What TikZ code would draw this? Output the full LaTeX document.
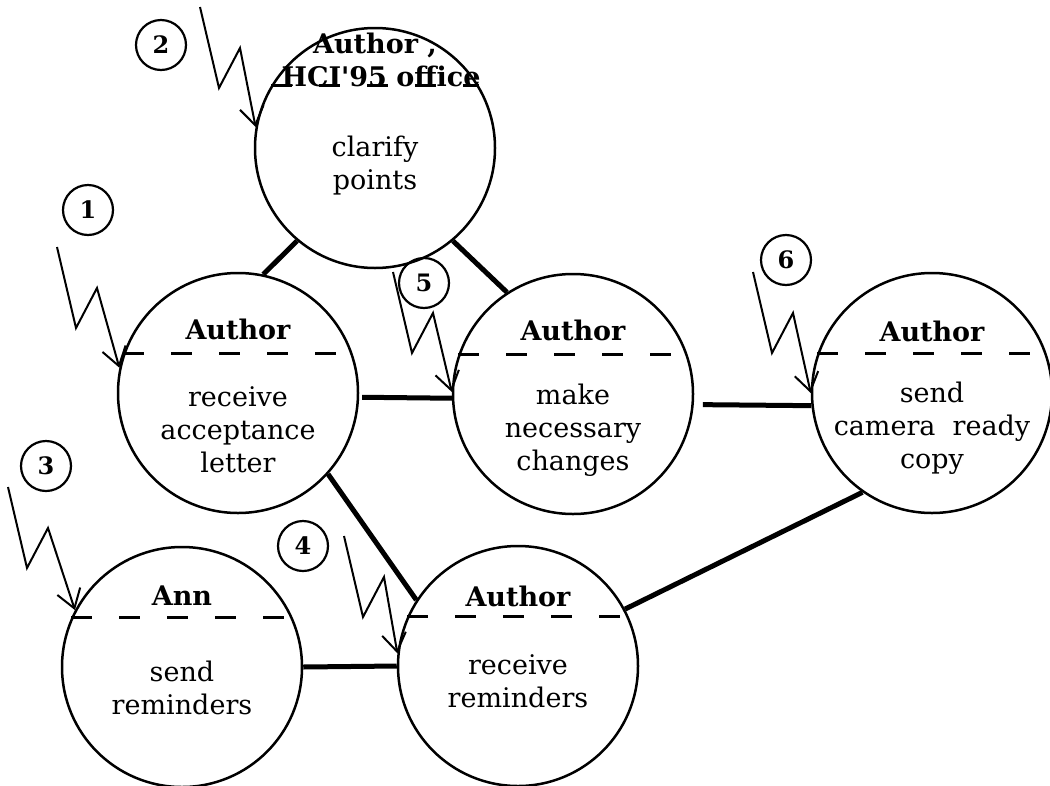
\documentclass[tikz,border=0pt]{standalone}
\usepackage{fontspec}
\setmainfont{DejaVu Serif}
\usetikzlibrary{arrows.meta,calc}

\begin{document}
\begin{tikzpicture}[
  x=1pt,y=-1pt,
  font=\fontsize{27}{33}\selectfont,
  task/.style={draw,circle,line width=2.5pt,minimum size=240pt,inner sep=0pt},
  head/.style={font=\fontsize{27}{33}\selectfont\bfseries,inner sep=0pt},
  body/.style={align=center,inner sep=0pt},
  role/.style={line width=3pt,dash pattern=on 21pt off 27pt},
  link/.style={line width=5pt},
  badge/.style={draw,circle,line width=2.2pt,minimum size=50pt,inner sep=0pt,font=\fontsize{24}{24}\selectfont\bfseries},
  bolt/.style={line width=2pt,-{Straight Barb[length=18pt,width=24pt]}}
]
\useasboundingbox (0,0) rectangle (1050,785);
% --- tasks -----------------------------------------------------------------
\node[task] (clar) at (375,148) {};
\node[head] (clarh) at (375,45) {Author ,};
\node[head] (clarh2) at (381,76) {HCI\textquotesingle95 office};
\node[body] (clarb) at (375,166) {clarify\\points};
\draw[role] (clar.149) -- (clar.31);

\node[task] (recv) at (238,393) {};
\node[head] (recvh) at (238,329) {Author};
\node[body] (recvb) at (238,430) {receive\\acceptance\\letter};
\draw[role] (recv.161) -- (recv.19);

\node[task] (make) at (573,394) {};
\node[head] (makeh) at (573,330) {Author};
\node[body] (makeb) at (573,430) {make\\necessary\\changes};
\draw[role] (make.161) -- (make.19);

\node[task] (send) at (932,393) {};
\node[head] (sendh) at (932,331) {Author};
\node[body] (sendb) at (932,428) {send\\camera\ \ ready\\copy};
\draw[role] (send.161) -- (send.19);

\node[task] (ann) at (182,667) {};
\node[head] (annh) at (182,596) {Ann};
\node[body] (annb) at (182,688) {send\\reminders};
\draw[role] (ann.156) -- (ann.24);

\node[task] (rmd) at (518,666) {};
\node[head] (rmdh) at (518,596) {Author};
\node[body] (rmdb) at (518,681) {receive\\reminders};
\draw[role] (rmd.156) -- (rmd.24);
% --- links -----------------------------------------------------------------
\draw[link] (clar.230) -- (recv.78);
\draw[link] (clar.310) -- (make.123);
\draw[link,shorten <=3pt] (recv.358) -- (make.182);
\draw[link,shorten <=9pt] (make.355) -- (send.186);
\draw[link] (recv.318) -- (rmd.147);
\draw[link] (ann.east) -- (rmd.west);
\draw[link] (rmd.28) -- (send.235);
% --- numbered events -------------------------------------------------------
\foreach \n/\p/\s in {1/{88,210}/{57,247},2/{161,45}/{200,7},3/{46,466}/{8,487},
                      4/{303,546}/{344,536},5/{424,283}/{393,272},6/{786,260}/{753,272}}{
  \node[badge] (b\n) at (\p) {\n};
  \coordinate (z\n) at (\s);
}
\foreach \n/\c/\a in {1/recv/168,2/clar/170,3/ann/152,4/rmd/174,5/make/179,6/send/180}{
  \draw[bolt] (z\n) -- ++(19,81) -- ++(21,-40) -- (\c.\a);
}
\end{tikzpicture}
\end{document}
